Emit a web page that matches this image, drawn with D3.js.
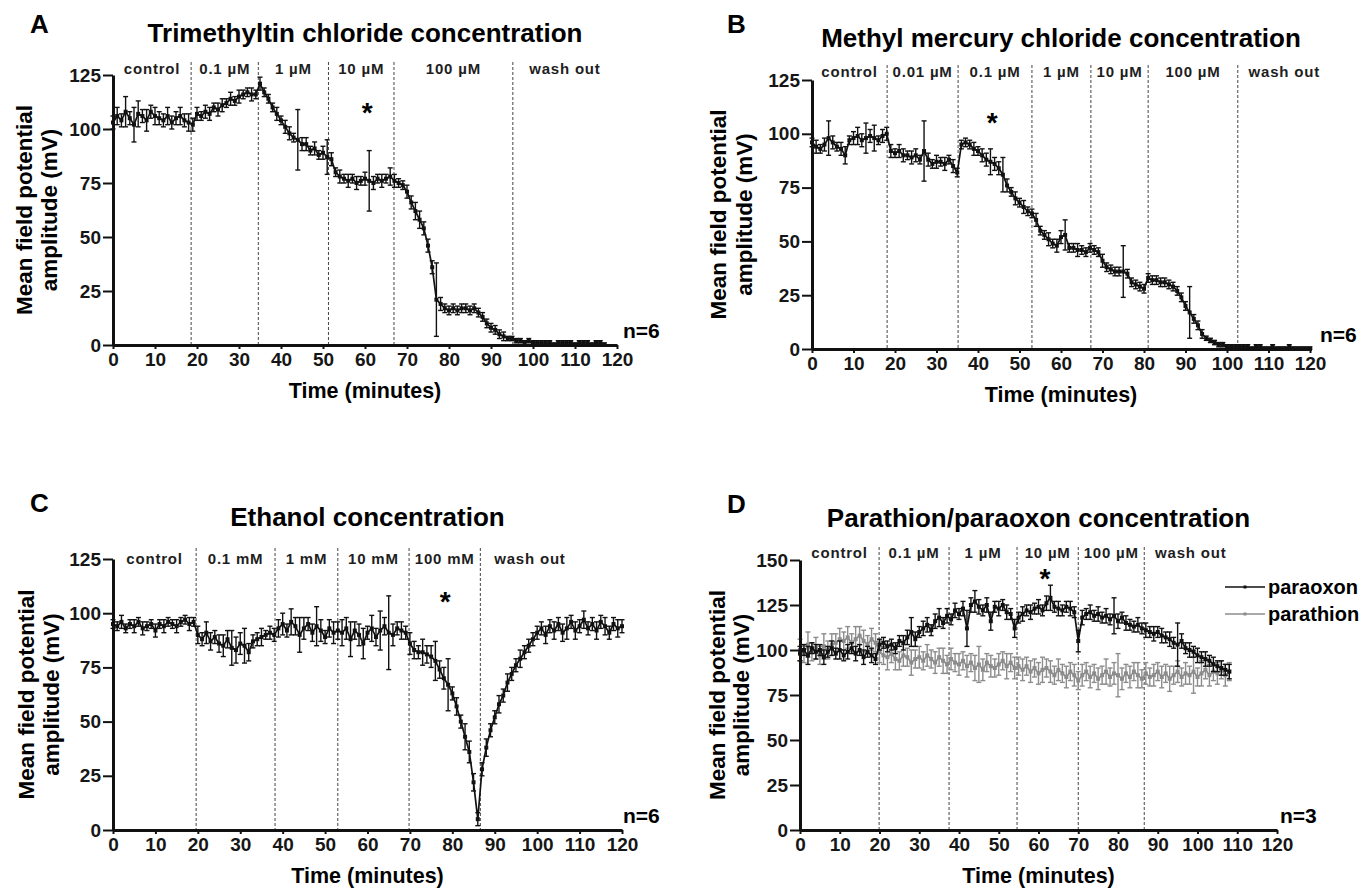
<!DOCTYPE html>
<html lang="en">
<head>
<meta charset="UTF-8" />
<title>Mean field potential amplitude</title>
<style>
  body { margin: 0; background: #fff; }
  svg { display: block; font-family: "Liberation Sans", Arial, sans-serif; font-weight: bold; }
  .axis path { stroke: #111; stroke-width: 3; }
  .axis line { stroke: #111; stroke-width: 2; }
  .axis text { font-size: 19px; font-weight: bold; fill: #161616; font-family: "Liberation Sans", Arial, sans-serif; }
  .phase-line { stroke: #444; stroke-width: 1; stroke-dasharray: 3 2; }
  .phase-label { font-size: 15px; letter-spacing: 0.8px; fill: #1e1e1e; }
</style>
</head>
<body>
<script src="https://d3js.org/d3.v7.min.js"></script>
<script>
// one value per minute
const trimethyltinMean = [
  103,106,104,108,105,102,107,106,104,108,106,105,104,106,103,105,106,104,103,
  102,107,106,108,107,110,109,111,112,114,113,115,116,117,116,116,121,117,114,
  110,107,104,101,98,96,95,93,93,90,91,88,89,87,86,80,78,77,76,77,75,
  76,77,76,75,77,76,77,78,76,75,74,71,66,62,58,54,46,36,21,19,
  17,16,17,16,17,17,16,17,15,13,10,8,7,5,4,3,3,2,2,1,
  2,1,1,1,1,1,0,1,1,1,1,0,1,1,1,0,1,1,0
];
const trimethyltinSem = [
  3,4,3,7,3,8,6,3,5,3,4,3,3,4,3,3,4,3,4,
  3,3,2,3,3,2,3,3,2,3,2,3,2,2,3,2,3,2,2,
  2,3,2,3,3,2,14,3,3,2,3,2,3,8,3,2,3,2,3,2,3,
  2,3,14,3,2,3,2,4,3,2,2,3,3,4,4,3,3,3,17,3,
  2,2,2,2,2,2,2,2,2,2,2,2,2,2,2,1,1,1,1,1,
  1,1,1,1,1,1,1,1,1,1,1,1,1,1,1,1,1,1,1
];

const mercuryMean = [
  96,94,93,95,98,96,94,93,90,97,98,99,97,98,99,98,97,99,100,
  92,91,92,90,90,89,90,88,92,88,86,87,87,86,88,85,82,
  95,96,95,93,92,90,88,87,86,84,81,76,73,70,68,66,64,
  63,60,55,53,51,49,48,52,53,47,47,46,46,45,47,46,45,
  41,38,37,36,36,36,35,31,30,29,28,33,32,32,31,31,30,
  29,27,24,20,17,14,11,7,5,4,3,2,2,1,1,1,1,
  1,1,0,1,1,0,0,1,0,0,0,1,0,0,0,0,0
];
const mercurySem = [
  2,3,2,3,8,3,2,3,4,2,3,4,3,7,3,6,2,3,3,
  3,2,3,3,2,3,3,2,14,3,2,3,2,3,2,3,2,
  2,2,2,3,2,3,3,6,3,3,8,3,2,3,2,3,2,
  2,3,2,2,3,2,3,3,7,2,2,3,2,2,2,2,2,
  3,2,2,2,2,12,2,2,2,2,2,2,2,2,2,2,2,
  2,2,2,2,12,2,2,2,1,1,1,1,1,1,1,1,1,
  1,1,1,1,1,1,1,1,1,1,1,1,1,1,1,1,1
];

const ethanolMean = [
  95,94,96,93,95,94,96,93,94,95,92,95,94,96,95,94,96,97,95,96,
  90,88,91,87,89,86,85,88,84,83,86,85,82,87,88,89,90,91,90,
  93,95,92,96,94,90,93,95,91,94,92,89,93,91,92,
  91,93,88,92,90,86,91,93,89,92,94,91,90,93,92,91,
  86,83,82,82,81,80,78,74,70,67,63,57,50,43,36,22,5,
  28,38,46,52,58,62,68,72,76,79,82,85,88,91,
  93,90,94,92,95,91,93,96,92,94,97,93,95,92,96,94,91,95,93,94
];
const ethanolSem = [
  2,2,3,2,2,3,2,3,2,2,3,2,3,2,2,3,2,2,3,2,
  4,3,5,4,3,4,5,4,8,6,5,8,4,3,3,4,2,3,3,
  4,5,3,6,4,8,5,3,4,9,5,3,4,5,4,
  6,5,8,4,5,7,3,6,4,9,4,17,5,3,4,3,
  5,4,3,6,4,5,9,4,5,12,3,4,3,6,5,4,3,
  3,4,3,3,4,3,4,3,3,4,3,3,3,3,
  3,4,3,4,3,4,5,3,4,3,4,3,3,4,3,4,3,3,4,3
];

const paraoxonMean = [
  98,100,97,101,99,100,96,99,101,98,100,97,99,101,98,100,96,99,97,95,
  103,104,102,103,101,105,104,107,110,106,110,112,114,111,116,118,115,119,
  117,122,120,123,112,125,127,124,122,125,116,124,123,125,121,120,112,
  118,120,122,121,123,124,122,126,129,124,123,122,124,123,121,105,
  118,120,121,119,120,118,119,117,119,116,118,115,114,113,114,112,111,
  110,109,110,108,107,106,104,103,105,101,100,99,97,96,95,94,92,91,90,89,88
];
const paraoxonSem = [
  4,3,5,3,4,3,4,3,4,3,5,3,4,3,4,3,4,3,4,3,
  3,3,3,3,3,3,4,4,8,4,3,4,4,3,4,5,3,4,
  3,4,3,4,10,4,6,4,3,4,5,3,4,3,4,3,5,
  3,4,3,4,3,4,3,4,7,3,4,3,3,4,3,6,
  4,3,4,3,4,3,4,3,10,4,3,4,3,3,4,3,4,
  3,4,3,4,3,4,3,12,4,3,4,3,4,3,4,3,4,3,4,3,4
];

const parathionMean = [
  100,98,103,99,101,97,102,100,103,104,106,105,107,104,106,108,105,103,106,104,
  99,97,96,98,95,94,97,96,93,95,96,94,97,95,93,96,94,92,95,93,
  92,94,91,93,90,92,89,93,91,90,92,94,91,93,90,91,
  89,91,88,90,87,89,90,88,86,89,87,85,88,86,83,
  86,88,85,87,84,86,88,85,87,86,84,87,85,88,86,84,87,85,86,88,
  85,87,84,86,88,85,87,86,88,85,87,89,86,88,87,89,86,88
];
const parathionSem = [
  6,5,7,5,6,5,7,5,6,5,6,5,6,5,7,5,6,5,6,5,
  6,5,7,5,6,5,6,5,7,5,6,5,6,5,6,5,7,5,6,5,
  6,5,6,5,7,10,6,5,6,5,6,5,7,5,6,5,
  6,5,6,5,6,7,5,6,5,6,5,6,5,6,5,
  6,5,6,5,6,5,7,5,6,12,6,5,6,5,7,5,6,5,6,5,
  6,5,7,5,6,5,6,5,12,5,7,5,6,5,6,5,6,5
];

const trimethyltinPhases = ["control", "0.1 µM", "1 µM", "10 µM", "100 µM", "wash out"];
const trimethyltinSwitches = [18.6, 34.6, 51.3, 66.9, 95.2];
const mercuryPhases = ["control", "0.01 µM", "0.1 µM", "1 µM", "10 µM", "100 µM", "wash out"];
const mercurySwitches = [18.1, 35.2, 53, 67.2, 81, 102.6];
const ethanolPhases = ["control", "0.1 mM", "1 mM", "10 mM", "100 mM", "wash out"];
const ethanolSwitches = [19.6, 38.2, 53, 69.8, 86.6];
const organophosphatePhases = ["control", "0.1 µM", "1 µM", "10 µM", "100 µM", "wash out"];
const organophosphateSwitches = [19.9, 37.5, 54.6, 70, 86.6];

const timeTicks = [0, 10, 20, 30, 40, 50, 60, 70, 80, 90, 100, 110, 120];
const amplitudeTicks125 = [0, 25, 50, 75, 100, 125];
const amplitudeTicks150 = [0, 25, 50, 75, 100, 125, 150];

const panels = [
  {
    letter: "A", title: "Trimethyltin chloride concentration", n: "n=6",
    left: 113, right: 617, top: 75, bottom: 345, yMax: 125, yTicks: amplitudeTicks125,
    phases: trimethyltinPhases, switches: trimethyltinSwitches, labelEnd: 120,
    letterX: 30, letterY: 33, phaseY: 74, dashTop: 62, lab1: 32, lab2: 57, nX: 623,
    star: [60.5, 110],
    series: [{ name: "trimethyltin", mean: trimethyltinMean, sem: trimethyltinSem, color: "#111" }]
  },
  {
    letter: "B", title: "Methyl mercury chloride concentration", n: "n=6",
    left: 812, right: 1310, top: 80, bottom: 349, yMax: 125, yTicks: amplitudeTicks125,
    phases: mercuryPhases, switches: mercurySwitches, labelEnd: 125,
    letterX: 727, letterY: 33, phaseY: 77, dashTop: 65, lab1: 726, lab2: 752, nX: 1320,
    star: [43.4, 108],
    series: [{ name: "mercury", mean: mercuryMean, sem: mercurySem, color: "#111" }]
  },
  {
    letter: "C", title: "Ethanol concentration", n: "n=6",
    left: 113, right: 622, top: 559, bottom: 830, yMax: 125, yTicks: amplitudeTicks125,
    phases: ethanolPhases, switches: ethanolSwitches, labelEnd: 110,
    letterX: 30, letterY: 512, phaseY: 564, dashTop: 548, lab1: 34, lab2: 59, nX: 623,
    star: [78.3, 108],
    series: [{ name: "ethanol", mean: ethanolMean, sem: ethanolSem, color: "#111" }]
  },
  {
    letter: "D", title: "Parathion/paraoxon concentration", n: "n=3",
    left: 800, right: 1277, top: 560, bottom: 830, yMax: 150, yTicks: amplitudeTicks150,
    phases: organophosphatePhases, switches: organophosphateSwitches, labelEnd: 110,
    letterX: 727, letterY: 513, phaseY: 558, dashTop: 547, lab1: 725, lab2: 749, nX: 1280,
    star: [61.6, 143],
    series: [
      { name: "parathion", mean: parathionMean, sem: parathionSem, color: "#8c8c8c" },
      { name: "paraoxon", mean: paraoxonMean, sem: paraoxonSem, color: "#111" }
    ],
    legend: [
      { name: "paraoxon", color: "#111", y: 587 },
      { name: "parathion", color: "#8c8c8c", y: 614 }
    ]
  }
];

const svg = d3.select("body").append("svg")
  .attr("width", 1364)
  .attr("height", 888);

svg.append("rect").attr("width", 1364).attr("height", 888).attr("fill", "#fff");

function drawPanel(p) {
  const x = d3.scaleLinear().domain([0, 120]).range([p.left, p.right]);
  const y = d3.scaleLinear().domain([0, p.yMax]).range([p.bottom, p.top]);
  const g = svg.append("g");

  // treatment boundaries
  g.selectAll(".phase-line")
    .data(p.switches)
    .join("line")
    .attr("class", "phase-line")
    .attr("x1", (d) => x(d))
    .attr("x2", (d) => x(d))
    .attr("y1", p.dashTop)
    .attr("y2", p.bottom);

  const edges = [0, ...p.switches, p.labelEnd];
  g.selectAll(".phase-label")
    .data(p.phases)
    .join("text")
    .attr("class", "phase-label")
    .attr("x", (d, i) => x((edges[i] + edges[i + 1]) / 2))
    .attr("y", p.phaseY)
    .attr("text-anchor", "middle")
    .text((d) => d);

  // mean +/- sem traces
  const line = d3.line()
    .x((d) => x(d.t))
    .y((d) => y(d.v));

  p.series.forEach((s) => {
    const pts = s.mean.map((v, i) => ({ t: i, v: v, e: s.sem[i] }));
    const sg = g.append("g");

    sg.append("path")
      .attr("d", line(pts))
      .attr("fill", "none")
      .attr("stroke", s.color)
      .attr("stroke-width", 1.7);

    const bars = sg.selectAll(".err").data(pts).join("g");
    bars.append("line")
      .attr("x1", (d) => x(d.t)).attr("x2", (d) => x(d.t))
      .attr("y1", (d) => y(d.v + d.e)).attr("y2", (d) => y(Math.max(0, d.v - d.e)))
      .attr("stroke", s.color).attr("stroke-width", 1.4);
    bars.append("line")
      .attr("x1", (d) => x(d.t) - 2.5).attr("x2", (d) => x(d.t) + 2.5)
      .attr("y1", (d) => y(d.v + d.e)).attr("y2", (d) => y(d.v + d.e))
      .attr("stroke", s.color).attr("stroke-width", 1.4);
    bars.append("line")
      .attr("x1", (d) => x(d.t) - 2.5).attr("x2", (d) => x(d.t) + 2.5)
      .attr("y1", (d) => y(Math.max(0, d.v - d.e))).attr("y2", (d) => y(Math.max(0, d.v - d.e)))
      .attr("stroke", s.color).attr("stroke-width", 1.4);
    bars.append("rect")
      .attr("x", (d) => x(d.t) - 2)
      .attr("y", (d) => y(d.v) - 2)
      .attr("width", 4)
      .attr("height", 4)
      .attr("fill", s.color);
  });

  // axes
  g.append("g")
    .attr("class", "axis")
    .attr("transform", `translate(0, ${p.bottom})`)
    .call(d3.axisBottom(x).tickValues(timeTicks).tickSize(4).tickSizeOuter(0).tickPadding(4));

  g.append("g")
    .attr("class", "axis")
    .attr("transform", `translate(${p.left}, 0)`)
    .call(d3.axisLeft(y).tickValues(p.yTicks).tickSize(10).tickSizeOuter(0).tickPadding(2));

  // texts
  g.append("text")
    .attr("x", p.letterX).attr("y", p.letterY)
    .style("font-size", "26px")
    .text(p.letter);

  g.append("text")
    .attr("x", (p.left + p.right) / 2).attr("y", p.top - 33)
    .attr("text-anchor", "middle")
    .style("font-size", "26px")
    .text(p.title);

  g.append("text")
    .attr("x", (p.left + p.right) / 2).attr("y", p.bottom + 53)
    .attr("text-anchor", "middle")
    .style("font-size", "21.5px")
    .text("Time (minutes)");

  const midY = (p.top + p.bottom) / 2;
  g.append("text")
    .attr("transform", `translate(${p.lab1}, ${midY}) rotate(-90)`)
    .attr("text-anchor", "middle")
    .style("font-size", "22.5px")
    .text("Mean field potential");
  g.append("text")
    .attr("transform", `translate(${p.lab2}, ${midY}) rotate(-90)`)
    .attr("text-anchor", "middle")
    .style("font-size", "22.5px")
    .text("amplitude (mV)");

  g.append("text")
    .attr("x", p.nX).attr("y", p.bottom - 7)
    .style("font-size", "21px")
    .text(p.n);

  g.append("text")
    .attr("x", x(p.star[0])).attr("y", y(p.star[1]) + 15)
    .attr("text-anchor", "middle")
    .style("font-size", "28px")
    .text("*");

  if (p.legend) {
    const lg = g.append("g");
    p.legend.forEach((l) => {
      lg.append("line")
        .attr("x1", 1225).attr("x2", 1265)
        .attr("y1", l.y).attr("y2", l.y)
        .attr("stroke", l.color).attr("stroke-width", 1.5);
      lg.append("rect")
        .attr("x", 1243.5).attr("y", l.y - 1.5)
        .attr("width", 3).attr("height", 3)
        .attr("fill", l.color);
      lg.append("text")
        .attr("x", 1268).attr("y", l.y + 7)
        .style("font-size", "20px")
        .text(l.name);
    });
  }
}

panels.forEach(drawPanel);
</script>
</body>
</html>
